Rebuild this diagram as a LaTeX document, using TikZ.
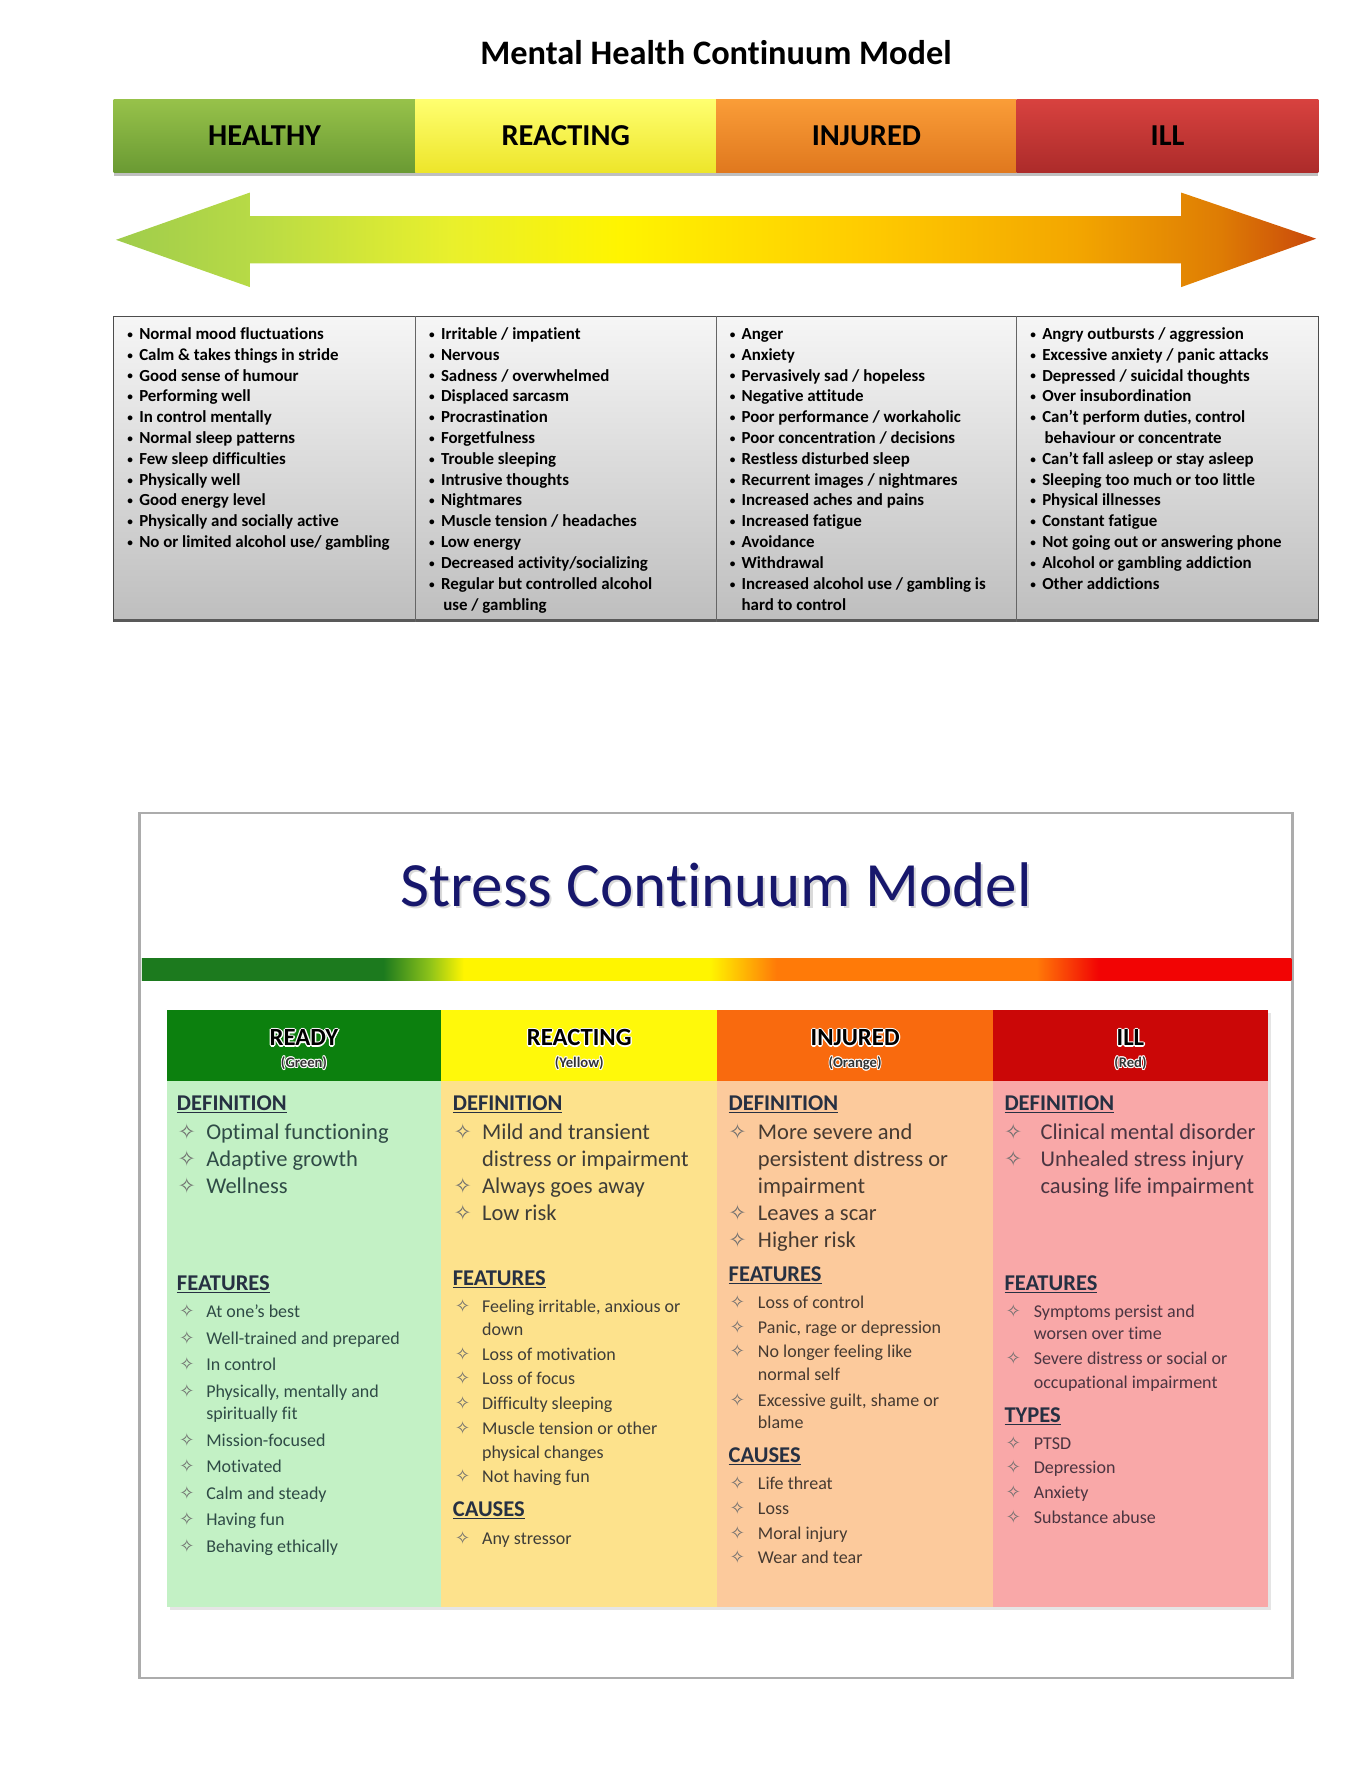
\documentclass[tikz,border=0pt]{standalone}
\usepackage{fontspec}
\setmainfont[Ligatures=NoCommon]{Carlito}
\newfontfamily\starfont{DejaVu Sans}

\definecolor{hgreenT}{HTML}{97C24A}
\definecolor{hgreenB}{HTML}{6A9A33}
\definecolor{hyellowT}{HTML}{FFFF70}
\definecolor{hyellowB}{HTML}{EDE52A}
\definecolor{horangeT}{HTML}{FA9D38}
\definecolor{horangeB}{HTML}{E0781E}
\definecolor{hredT}{HTML}{D8423F}
\definecolor{hredB}{HTML}{AC2B2A}
\definecolor{arrA}{HTML}{9FCC4C}
\definecolor{arrB}{HTML}{B9DB45}
\definecolor{arrC}{HTML}{E9F02C}
\definecolor{arrD}{HTML}{FFF400}
\definecolor{arrE}{HTML}{FFCC00}
\definecolor{arrF}{HTML}{F3A600}
\definecolor{arrG}{HTML}{DE7C04}
\definecolor{arrH}{HTML}{C9480C}
\definecolor{tabT}{HTML}{F6F6F6}
\definecolor{tabB}{HTML}{BEBEBE}
\definecolor{navy}{HTML}{17176C}
\definecolor{barG}{HTML}{1C7A1E}
\definecolor{barL}{HTML}{8CC21A}
\definecolor{barY}{HTML}{FFF500}
\definecolor{barO}{HTML}{FF7A08}
\definecolor{barR}{HTML}{F20404}
\definecolor{rdyH}{HTML}{0C800E}
\definecolor{rctH}{HTML}{FFF90A}
\definecolor{injH}{HTML}{F96A0E}
\definecolor{illH}{HTML}{CB0707}
\definecolor{rdyB}{HTML}{C3F1C5}
\definecolor{rctB}{HTML}{FDE28C}
\definecolor{injB}{HTML}{FCCA9C}
\definecolor{illB}{HTML}{F9A8A8}
\definecolor{headc}{HTML}{263042}
\definecolor{rdyT}{HTML}{2F4B46}
\definecolor{rctT}{HTML}{3E3D38}
\definecolor{injT}{HTML}{463A31}
\definecolor{illT}{HTML}{4B3541}
\definecolor{starc}{HTML}{6E6E6E}

\pgfdeclarehorizontalshading{mharrow}{100bp}{color(0bp)=(arrA); color(25bp)=(arrA); color(31bp)=(arrB); color(39bp)=(arrC); color(46bp)=(arrD); color(56bp)=(arrE); color(65bp)=(arrF); color(71bp)=(arrG); color(75bp)=(arrH); color(100bp)=(arrH)}
\pgfdeclarehorizontalshading{scbar}{100bp}{color(0bp)=(barG); color(35.5bp)=(barG); color(37.5bp)=(barL); color(39bp)=(barY); color(49.7bp)=(barY); color(52.6bp)=(barO); color(63.9bp)=(barO); color(66.6bp)=(barR); color(100bp)=(barR)}

\newdimen\glowd
\newcommand\glowtxt[2][1.2pt]{%
  \glowd=#1\relax
  \setbox0=\hbox{#2}%
  \rlap{\color{white}\kern\glowd\copy0}%
  \rlap{\color{white}\kern-\glowd\copy0}%
  \rlap{\color{white}\raise\glowd\copy0}%
  \rlap{\color{white}\lower\glowd\copy0}%
  \rlap{\color{white}\kern0.7\glowd\raise0.7\glowd\copy0}%
  \rlap{\color{white}\kern-0.7\glowd\raise0.7\glowd\copy0}%
  \rlap{\color{white}\kern0.7\glowd\lower0.7\glowd\copy0}%
  \rlap{\color{white}\kern-0.7\glowd\lower0.7\glowd\copy0}%
  \box0}
\newcommand\mhb{{\fontsize{10}{10}\selectfont\raisebox{1pt}{•}}\hspace{5.5pt}}
\newcommand\mhcont{\phantom{\mhb}\kern2pt}

\begin{document}
\begin{tikzpicture}[x=1pt,y=-1pt,
  mhtitle/.style={font=\fontsize{30.5}{36}\selectfont\bfseries, anchor=base},
  bandlbl/.style={font=\fontsize{27}{32}\selectfont\bfseries, anchor=base},
  mhline/.style={font=\fontsize{15}{18}\selectfont\bfseries, anchor=base west, inner sep=0pt},
  sctitle/.style={font=\fontsize{56}{64}\selectfont, anchor=base},
  colhead/.style={font=\fontsize{22}{26}\selectfont\bfseries, anchor=base},
  colsub/.style={font=\fontsize{13}{15}\selectfont\bfseries, text=black!80, anchor=base},
  sechead/.style={font=\fontsize{20}{24}\selectfont\bfseries, text=headc, anchor=base west, inner sep=0pt},
  defitem/.style={font=\fontsize{20}{24}\selectfont, anchor=base west, inner sep=0pt},
  featitem/.style={font=\fontsize{16}{19}\selectfont, anchor=base west, inner sep=0pt},
  defstar/.style={font=\starfont\fontsize{19}{19}\selectfont, text=starc, anchor=base, inner sep=0pt},
  featstar/.style={font=\starfont\fontsize{16}{16}\selectfont, text=starc, anchor=base, inner sep=0pt}]

  \useasboundingbox (0,0) rectangle (1215,1568.5);

  \node[mhtitle] (mhtitle) at (636,57.5) {Mental Health Continuum Model};

  \fill[gray!50] (101,153) rectangle (1171,156);
  \shade[top color=hgreenT, bottom color=hgreenB] (101,88) rectangle (369,153);
  \shade[top color=hyellowT, bottom color=hyellowB] (369,88) rectangle (636,153);
  \shade[top color=horangeT, bottom color=horangeB] (636,88) rectangle (903,153);
  \shade[top color=hredT, bottom color=hredB] (903,88) rectangle (1171,153);
  \node[bandlbl] (healthy) at (235,129) {HEALTHY};
  \node[bandlbl] (reacting) at (502.5,129) {REACTING};
  \node[bandlbl] (injured) at (769.5,129) {INJURED};
  \node[bandlbl] (ill) at (1037,129) {ILL};

  \shade[shading=mharrow] (103,213) -- (222,171) -- (222,192) -- (1049,192) -- (1049,171)
    -- (1169,212) -- (1049,255) -- (1049,234) -- (222,234) -- (222,255) -- cycle;

  \shade[top color=tabT, bottom color=tabB] (101,281) rectangle (1171,552);
  \draw[black!70, line width=1.2] (101,281) rectangle (1171,552);
  \draw[black!65, line width=3] (101,551) -- (1171,551);
  \draw[black!60] (369,281) -- (369,552);
  \draw[black!60] (636,281) -- (636,552);
  \draw[black!60] (903,281) -- (903,552);

  \foreach \t [count=\i] in {\mhb Normal mood fluctuations, \mhb Calm \& takes things in stride,
    \mhb Good sense of humour, \mhb Performing well, \mhb In control mentally,
    \mhb Normal sleep patterns, \mhb Few sleep difficulties, \mhb Physically well,
    \mhb Good energy level, \mhb Physically and socially active,
    \mhb No or limited alcohol use/ gambling}
    \node[mhline] (hea\i) at (113,{301.4+18.5*(\i-1)}) {\t};
  \foreach \t [count=\i] in {\mhb Irritable / impatient, \mhb Nervous, \mhb Sadness / overwhelmed,
    \mhb Displaced sarcasm, \mhb Procrastination, \mhb Forgetfulness, \mhb Trouble sleeping,
    \mhb Intrusive thoughts, \mhb Nightmares, \mhb Muscle tension / headaches, \mhb Low energy,
    \mhb Decreased activity/socializing, \mhb Regular but controlled alcohol,
    \mhcont use / gambling}
    \node[mhline] (rea\i) at (381,{301.4+18.5*(\i-1)}) {\t};
  \foreach \t [count=\i] in {\mhb Anger, \mhb Anxiety, \mhb Pervasively sad / hopeless,
    \mhb Negative attitude, \mhb Poor performance / workaholic,
    \mhb Poor concentration / decisions, \mhb Restless disturbed sleep,
    \mhb Recurrent images / nightmares, \mhb Increased aches and pains, \mhb Increased fatigue,
    \mhb Avoidance, \mhb Withdrawal, \mhb Increased alcohol use / gambling is,
    \phantom{\mhb}hard to control}
    \node[mhline] (inj\i) at (648,{301.4+18.5*(\i-1)}) {\t};
  \foreach \t [count=\i] in {\mhb Angry outbursts / aggression, \mhb Excessive anxiety / panic attacks,
    \mhb Depressed / suicidal thoughts, \mhb Over insubordination,
    {\mhb Can’t perform duties, control}, \mhcont behaviour or concentrate,
    \mhb Can’t fall asleep or stay asleep, \mhb Sleeping too much or too little,
    \mhb Physical illnesses, \mhb Constant fatigue, \mhb Not going out or answering phone,
    \mhb Alcohol or gambling addiction, \mhb Other addictions}
    \node[mhline] (ill\i) at (915,{301.4+18.5*(\i-1)}) {\t};

  \fill[white] (124,722) rectangle (1148,1490);
  \draw[gray!65, line width=2] (124,722) rectangle (1148,1490);
  \node[sctitle, text=gray!30] (scshadow) at (638,807) {Stress Continuum Model};
  \node[sctitle, text=navy] (sctitle) at (636,805) {Stress Continuum Model};
  \shade[shading=scbar] (126,851) rectangle (1147,871);

  \fill[black!10] (151,900) rectangle (1129,1430);
  \fill[rdyH] (148,897) rectangle (392,960);
  \fill[rctH] (392,897) rectangle (637,960);
  \fill[injH] (637,897) rectangle (882,960);
  \fill[illH] (882,897) rectangle (1126,960);
  \fill[rdyB] (148,960) rectangle (392,1427);
  \fill[rctB] (392,960) rectangle (637,1427);
  \fill[injB] (637,960) rectangle (882,1427);
  \fill[illB] (882,960) rectangle (1126,1427);

  \node[colhead] (ready) at (270,929) {\glowtxt{READY}};
  \node[colsub] (readysub) at (270,948) {\glowtxt[0.8pt]{(Green)}};
  \node[colhead] (react) at (514.5,929) {\glowtxt{REACTING}};
  \node[colsub] (reactsub) at (514.5,948) {\glowtxt[0.8pt]{(Yellow)}};
  \node[colhead] (injur) at (759.5,929) {\glowtxt{INJURED}};
  \node[colsub] (injursub) at (759.5,948) {\glowtxt[0.8pt]{(Orange)}};
  \node[colhead] (illc) at (1004,929) {\glowtxt{ILL}};
  \node[colsub] (illcsub) at (1004,948) {\glowtxt[0.8pt]{(Red)}};

  \node[sechead] (rdy-def) at (157,986) {\underline{DEFINITION}};
  \foreach \y/\t in {1012/Optimal functioning, 1036/Adaptive growth, 1060/Wellness}
    \node[defitem, text=rdyT] (rdy-d\y) at (183,\y) {\t};
  \foreach \y in {1012,1036,1060}
    \node[defstar] (rdy-ds\y) at (166,\y) {✧};
  \node[sechead] (rdy-feat) at (157,1146) {\underline{FEATURES}};
  \foreach \y/\t in {1170/At one’s best, 1194/Well-trained and prepared, 1217/In control,
    1241/{Physically, mentally and}, 1261/spiritually fit, 1285/Mission-focused, 1308/Motivated,
    1332/Calm and steady, 1355/Having fun, 1379/Behaving ethically}
    \node[featitem, text=rdyT] (rdy-f\y) at (183,\y) {\t};
  \foreach \y in {1170,1194,1217,1241,1285,1308,1332,1355,1379}
    \node[featstar] (rdy-fs\y) at (166,\y) {✧};

  \node[sechead] (rct-def) at (402,986) {\underline{DEFINITION}};
  \foreach \y/\t in {1012/Mild and transient, 1036/distress or impairment, 1060/Always goes away,
    1084/Low risk}
    \node[defitem, text=rctT] (rct-d\y) at (428,\y) {\t};
  \foreach \y in {1012,1060,1084}
    \node[defstar] (rct-ds\y) at (411,\y) {✧};
  \node[sechead] (rct-feat) at (402,1142) {\underline{FEATURES}};
  \foreach \y/\t in {1166/{Feeling irritable, anxious or}, 1186/down, 1208/Loss of motivation,
    1230/Loss of focus, 1252/Difficulty sleeping, 1274/Muscle tension or other,
    1295/physical changes, 1317/Not having fun}
    \node[featitem, text=rctT] (rct-f\y) at (428,\y) {\t};
  \foreach \y in {1166,1208,1230,1252,1274,1317}
    \node[featstar] (rct-fs\y) at (411,\y) {✧};
  \node[sechead] (rct-cau) at (402,1347) {\underline{CAUSES}};
  \node[featitem, text=rctT] (rct-c1) at (428,1372) {Any stressor};
  \node[featstar] (rct-cs1) at (411,1372) {✧};

  \node[sechead] (inj-def) at (647,986) {\underline{DEFINITION}};
  \foreach \y/\t in {1012/More severe and, 1036/persistent distress or, 1060/impairment,
    1084/Leaves a scar, 1108/Higher risk}
    \node[defitem, text=injT] (inj-d\y) at (673,\y) {\t};
  \foreach \y in {1012,1084,1108}
    \node[defstar] (inj-ds\y) at (655,\y) {✧};
  \node[sechead] (inj-feat) at (647,1138) {\underline{FEATURES}};
  \foreach \y/\t in {1162/Loss of control, 1184/{Panic, rage or depression},
    1206/No longer feeling like, 1226/normal self, 1249/{Excessive guilt, shame or}, 1269/blame}
    \node[featitem, text=injT] (inj-f\y) at (673,\y) {\t};
  \foreach \y in {1162,1184,1206,1249}
    \node[featstar] (inj-fs\y) at (655,\y) {✧};
  \node[sechead] (inj-cau) at (647,1299) {\underline{CAUSES}};
  \foreach \y/\t in {1323/Life threat, 1345/Loss, 1367/Moral injury, 1389/Wear and tear}
    \node[featitem, text=injT] (inj-c\y) at (673,\y) {\t};
  \foreach \y in {1323,1345,1367,1389}
    \node[featstar] (inj-cs\y) at (655,\y) {✧};

  \node[sechead] (ill-def) at (892,986) {\underline{DEFINITION}};
  \foreach \y/\t in {1012/Clinical mental disorder, 1036/Unhealed stress injury,
    1060/causing life impairment}
    \node[defitem, text=illT] (ill-d\y) at (924,\y) {\t};
  \foreach \y in {1012,1036}
    \node[defstar] (ill-ds\y) at (900,\y) {✧};
  \node[sechead] (ill-feat) at (892,1146) {\underline{FEATURES}};
  \foreach \y/\t in {1170/Symptoms persist and, 1190/worsen over time,
    1212/Severe distress or social or, 1233/occupational impairment}
    \node[featitem, text=illT] (ill-f\y) at (918,\y) {\t};
  \foreach \y in {1170,1212}
    \node[featstar] (ill-fs\y) at (900,\y) {✧};
  \node[sechead] (ill-typ) at (892,1263) {\underline{TYPES}};
  \foreach \y/\t in {1287/PTSD, 1309/Depression, 1331/Anxiety, 1353/Substance abuse}
    \node[featitem, text=illT] (ill-t\y) at (918,\y) {\t};
  \foreach \y in {1287,1309,1331,1353}
    \node[featstar] (ill-ts\y) at (900,\y) {✧};
\end{tikzpicture}
\end{document}
